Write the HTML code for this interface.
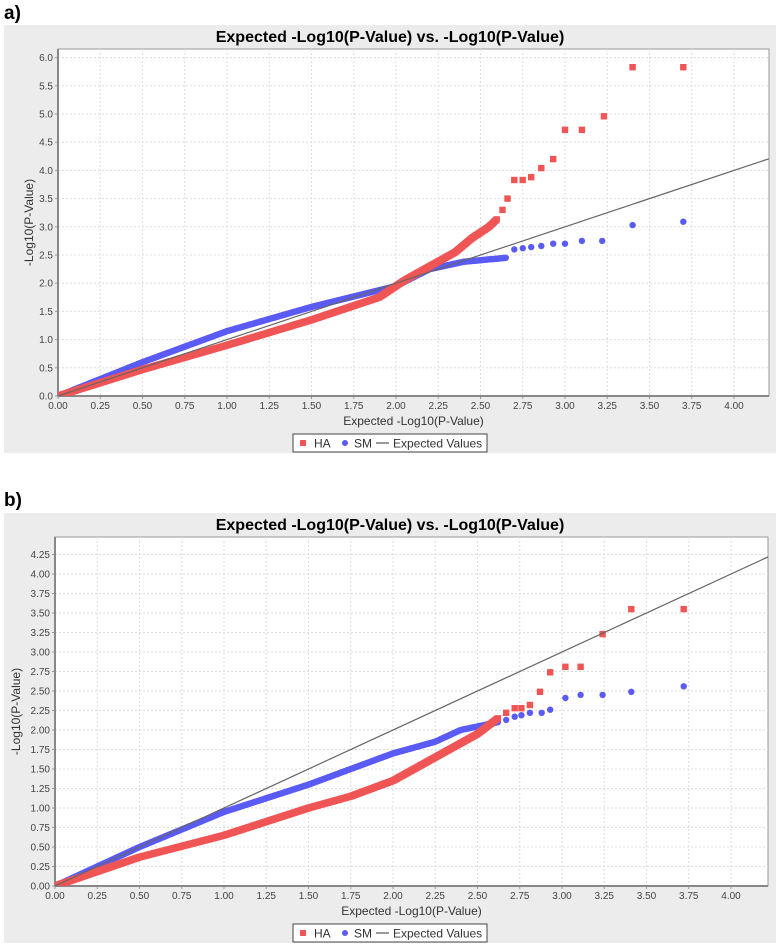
<!DOCTYPE html>
<html><head><meta charset="utf-8"><style>
body{margin:0;background:#fff;width:778px;height:945px;overflow:hidden;font-family:"Liberation Sans",sans-serif}
svg text{font-family:"Liberation Sans",sans-serif}
</style></head><body>
<svg id="s" width="778" height="945" xmlns="http://www.w3.org/2000/svg"></svg>
<script>
const S=document.getElementById('s');let h='';
h+='<text x="4" y="19" font-size="19" font-weight="bold">a)</text>';
h+='<text x="4" y="506" font-size="19" font-weight="bold">b)</text>';
function chart(o){
 const {top,pt,pb,pl,pr,yu,ymax,ystep,ydec,xu}=o;
 const X=v=>pl+xu*v, Y=v=>pb-yu*v;
 h+=`<rect x="4" y="${top}" width="772" height="${o.bot-top}" fill="#ececec"/>`;
 h+=`<text x="390" y="${top+17}" font-size="16" font-weight="bold" text-anchor="middle">Expected -Log10(P-Value) vs. -Log10(P-Value)</text>`;
 h+=`<rect x="${pl}" y="${pt}" width="${pr-pl}" height="${pb-pt}" fill="#fff" stroke="#999"/>`;
 for(let v=0;v<=ymax+1e-9;v+=ystep){const y=Y(v);
  h+=`<line x1="${pl}" x2="${pr}" y1="${y}" y2="${y}" stroke="#ddd" stroke-dasharray="2,2"/>`;
  h+=`<line x1="${pl-3}" x2="${pl}" y1="${y}" y2="${y}" stroke="#999"/>`;
  h+=`<text x="${pl-5}" y="${y+3.5}" font-size="10" fill="#444" text-anchor="end">${v.toFixed(ydec)}</text>`;}
 for(let v=0;v<=4.001;v+=0.25){const x=X(v);
  h+=`<line x1="${x}" x2="${x}" y1="${pt}" y2="${pb}" stroke="#ddd" stroke-dasharray="2,2"/>`;
  h+=`<line x1="${x}" x2="${x}" y1="${pb}" y2="${pb+3}" stroke="#999"/>`;
  h+=`<text x="${x}" y="${pb+13}" font-size="10" fill="#444" text-anchor="middle">${v.toFixed(2)}</text>`;}
 h+=`<line x1="${pl}" x2="${pl}" y1="${pt}" y2="${pb}" stroke="#888" stroke-width="2"/>`;
 h+=`<line x1="${pl}" x2="${pr}" y1="${pb}" y2="${pb}" stroke="#888" stroke-width="2"/>`;
 h+=`<text x="${(pl+pr)/2}" y="${pb+29}" font-size="12" fill="#333" text-anchor="middle">Expected -Log10(P-Value)</text>`;
 h+=`<text transform="translate(${o.ylx},${(pt+pb)/2}) rotate(-90)" font-size="12" fill="#333" text-anchor="middle">-Log10(P-Value)</text>`;
 function curve(pts,lim){let out=[];for(let v=0.01;v<=lim;v+=0.006){let i=0;while(i<pts.length-2&&v>pts[i+1][0])i++;const a=pts[i],b=pts[i+1];out.push([v,a[1]+(b[1]-a[1])*(v-a[0])/(b[0]-a[0])]);}return out;}
 const blue=curve(o.blue,o.blim).concat(o.bout), red=curve(o.red,o.rlim).concat(o.rout);
 h+=`<clipPath id="c${top}"><rect x="${pl}" y="${pt}" width="${pr-pl}" height="${pb-pt}"/></clipPath><g clip-path="url(#c${top})">`;
 blue.forEach(p=>h+=`<circle cx="${X(p[0]).toFixed(1)}" cy="${Y(p[1]).toFixed(1)}" r="3.2" fill="#5a5af5"/>`);
 red.forEach(p=>h+=`<rect x="${(X(p[0])-3.2).toFixed(1)}" y="${(Y(p[1])-3.2).toFixed(1)}" width="6.4" height="6.4" fill="#f05555"/>`);
 h+=`<line x1="${pl}" y1="${pb}" x2="${X(4.3)}" y2="${Y(4.3)}" stroke="#666" stroke-width="1.2"/></g>`;
 const ly=o.ly;
 h+=`<rect x="293" y="${ly}" width="194" height="18" fill="#fff" stroke="#444"/>`;
 h+=`<rect x="300" y="${ly+6}" width="6" height="6" fill="#f05555"/><text x="314" y="${ly+13.5}" font-size="12" fill="#333">HA</text>`;
 h+=`<circle cx="345" cy="${ly+9}" r="3" fill="#5a5af5"/><text x="354" y="${ly+13.5}" font-size="12" fill="#333">SM</text>`;
 h+=`<line x1="376" x2="389" y1="${ly+9}" y2="${ly+9}" stroke="#333"/><text x="393" y="${ly+13.5}" font-size="12" fill="#333">Expected Values</text>`;
}
chart({top:25,bot:453,pt:49,pb:396,pl:58,pr:769,yu:56.4,ymax:6,ystep:0.5,ydec:1,xu:169,ly:434,ylx:33,
 blue:[[0,0],[0.5,0.6],[1,1.15],[1.5,1.58],[2,1.95],[2.2,2.25],[2.4,2.38],[2.65,2.45]],blim:2.65,
 red:[[0,0],[0.5,0.47],[1,0.9],[1.5,1.35],[1.9,1.75],[2.05,2.05],[2.2,2.3],[2.35,2.55],[2.45,2.8],[2.55,3.0],[2.62,3.2]],rlim:2.6,
 bout:[[3.40,3.03],[3.70,3.09],[3.22,2.75],[3.1,2.75],[3.0,2.7],[2.93,2.7],[2.86,2.66],[2.8,2.64],[2.75,2.62],[2.7,2.6]],
 rout:[[3.40,5.83],[3.70,5.83],[3.23,4.96],[3.0,4.72],[3.1,4.72],[2.93,4.2],[2.86,4.04],[2.8,3.88],[2.7,3.83],[2.75,3.83],[2.66,3.5],[2.63,3.3]]});
chart({top:513,bot:943,pt:537,pb:886,pl:55,pr:768,yu:78,ymax:4.25,ystep:0.25,ydec:2,xu:169,ly:924,ylx:20,
 blue:[[0,0],[0.5,0.5],[1,0.95],[1.5,1.3],[2,1.7],[2.25,1.85],[2.4,2.0],[2.62,2.1]],blim:2.62,
 red:[[0,0],[0.5,0.37],[1,0.65],[1.5,1.0],[1.75,1.15],[2,1.35],[2.25,1.65],[2.5,1.95],[2.62,2.15]],rlim:2.62,
 bout:[[3.72,2.56],[3.41,2.49],[3.24,2.45],[3.11,2.45],[3.02,2.41],[2.93,2.26],[2.88,2.22],[2.81,2.22],[2.76,2.19],[2.72,2.17],[2.67,2.13]],
 rout:[[3.41,3.55],[3.72,3.55],[3.24,3.23],[3.11,2.81],[3.02,2.81],[2.93,2.74],[2.87,2.49],[2.81,2.32],[2.76,2.28],[2.72,2.28],[2.67,2.22]]});
S.innerHTML=h;
</script>
</body></html>
